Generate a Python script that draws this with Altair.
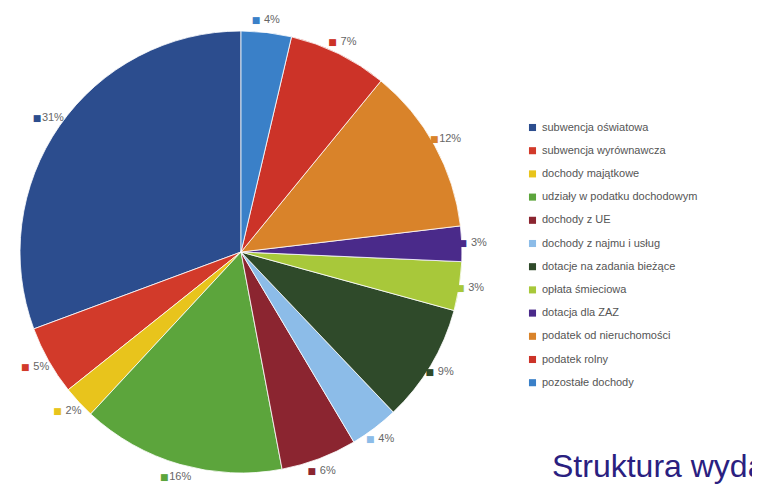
import altair as alt
import pandas as pd

# Legend order (as in the reference legend)
categories = [
    "subwencja oświatowa",
    "subwencja wyrównawcza",
    "dochody majątkowe",
    "udziały w podatku dochodowym",
    "dochody z UE",
    "dochody z najmu i usług",
    "dotacje na zadania bieżące",
    "opłata śmieciowa",
    "dotacja dla ZAZ",
    "podatek od nieruchomości",
    "podatek rolny",
    "pozostałe dochody",
]
# shares (percent)
shares = [30.9, 5.1, 2.4, 15.0, 5.6, 3.6, 8.7, 3.6, 2.6, 12.3, 7.3, 3.7]
# percent labels as printed on the chart
labels = ["31%", "5%", "2%", "16%", "6%", "4%", "9%", "3%", "3%", "12%", "7%", "4%"]
colors = [
    "#2c4d8e", "#d23a2a", "#e8c41c", "#5ca53c", "#8b2530", "#8cbce8",
    "#2f4a2a", "#a8c83a", "#4a2a8a", "#d9832a", "#cc3328", "#3a80c8",
]

df = pd.DataFrame({
    "kategoria": categories,
    "udzial": shares,
    "etykieta": labels,
    "kolejnosc": list(range(len(categories), 0, -1)),
})

CX, CY, R = 233, 244, 221
LR = R + 13

color_scale = alt.Scale(domain=categories, range=colors)

base = alt.Chart(df).encode(
    theta=alt.Theta("udzial:Q", stack=True),
    order=alt.Order("kolejnosc:Q", sort="ascending"),
)

pie = base.mark_arc(outerRadius=R, stroke="white", strokeWidth=0.8).encode(
    x=alt.value(CX),
    y=alt.value(CY),
    color=alt.Color(
        "kategoria:N",
        scale=color_scale,
        sort=categories,
        legend=alt.Legend(
            title=None,
            orient="none",
            legendX=519,
            legendY=114,
            symbolType="square",
            symbolSize=50,
            symbolStrokeWidth=0,
            labelFontSize=11,
            labelColor="#555555",
            labelFont="Liberation Sans",
            rowPadding=11.2,
            labelLimit=300,
        ),
    ),
)

marker = base.mark_text(radius=LR, fontSize=9, dx=-12, font="DejaVu Sans").encode(
    x=alt.value(CX),
    y=alt.value(CY),
    text=alt.value("■"),
    color=alt.Color("kategoria:N", scale=color_scale, legend=None),
)

pct = base.mark_text(radius=LR, fontSize=11, dx=4, align="center",
                     font="Liberation Sans", color="#666666").encode(
    x=alt.value(CX),
    y=alt.value(CY),
    text="etykieta:N",
)

title = alt.Chart(pd.DataFrame({"t": ["Struktura wydatków"]})).mark_text(
    align="left", baseline="alphabetic", fontSize=32, font="Liberation Sans",
    color="#2a2080", clip=True,
).encode(
    x=alt.value(544),
    y=alt.value(469),
    text="t:N",
)

chart = alt.layer(pie, marker, pct, title).properties(
    width=744,
    height=476,
    padding=0,
    autosize=alt.AutoSizeParams(type="none"),
    view=alt.ViewBackground(stroke=None, strokeWidth=0),
).configure(background="white")

chart.save("out.html", embed_options={"renderer": "svg", "actions": False})
